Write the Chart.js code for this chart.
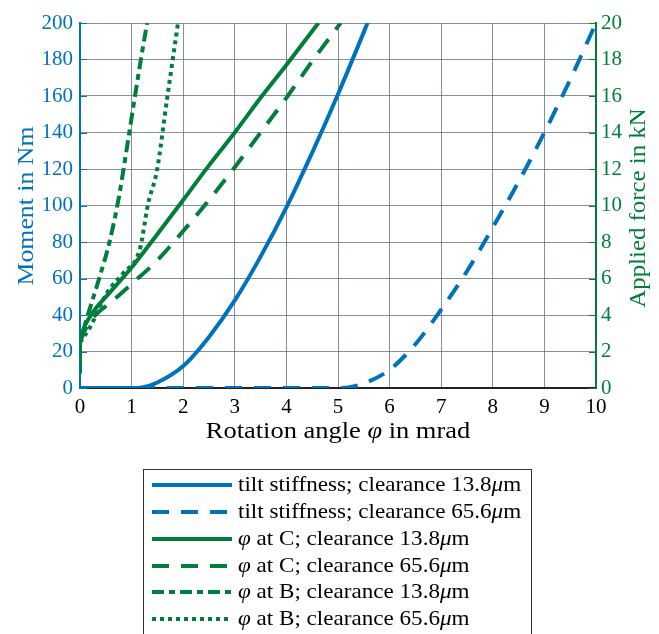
<!DOCTYPE html>
<html>
<head>
<meta charset="utf-8">
<script src="https://cdn.jsdelivr.net/npm/chart.js@4"></script>
<style>
  html, body { margin: 0; padding: 0; background: #fff; }
  #wrap { width: 659px; height: 634px; position: relative; }
</style>
</head>
<body>
<div id="wrap"><canvas id="chart" width="659" height="634"></canvas></div>
<script>
// tick values
const xTicks = [0, 1, 2, 3, 4, 5, 6, 7, 8, 9, 10];
const momentTicks = [0, 20, 40, 60, 80, 100, 120, 140, 160, 180, 200];
const forceTicks = [0, 2, 4, 6, 8, 10, 12, 14, 16, 18, 20];

// tilt stiffness (Nm), left axis
const tilt138X = [0, 1.0, 1.2, 1.5, 2.0, 2.5, 3.0, 3.5, 4.0, 4.5, 5.0, 5.5, 5.6];
const tilt138Y = [0, 0, 0.3, 3, 12, 28, 48, 72, 99, 129, 161, 195, 202];
const tilt656X = [0, 5.0, 5.2, 5.5, 6.0, 6.5, 7.0, 7.5, 8.0, 8.5, 9.0, 9.5, 10.0];
const tilt656Y = [0, 0, 0.3, 2.5, 10, 24, 43, 64, 88, 113, 140, 169, 200];

// angle at C / B (kN), right axis
const startX = [0, 0];
const startY = [0.8, 2.5];
const atC138X = [0, 0.05, 0.19, 0.6, 1.0, 1.41, 2.0, 2.5, 3.0, 3.5, 4.0, 4.62];
const atC138Y = [2.5, 3.1, 3.9, 5.3, 6.6, 8.1, 10.3, 12.2, 14.0, 15.9, 17.7, 20];
const atC656X = [0, 0.1, 0.3, 0.6, 1.0, 1.5, 2.0, 2.5, 3.0, 3.5, 4.0, 4.5, 5.05];
const atC656Y = [2.5, 3.2, 4.0, 4.7, 5.7, 7.0, 8.6, 10.3, 12.1, 14.0, 15.9, 17.9, 20];
const atB138X = [0, 0.13, 0.35, 0.58, 0.75, 0.95, 1.06, 1.18, 1.3];
const atB138Y = [2.5, 3.8, 5.8, 8.1, 10.4, 13.9, 15.9, 18.0, 20];
const atB656X = [0, 0.19, 0.52, 0.84, 1.16, 1.32, 1.49, 1.69, 1.9];
const atB656Y = [2.5, 3.3, 5.2, 6.3, 7.6, 10.1, 11.9, 15.9, 20];

const legendLabels = [
  ["", "tilt stiffness; clearance 13.8"],
  ["", "tilt stiffness; clearance 65.6"],
  ["\u03c6", " at C; clearance 13.8"],
  ["\u03c6", " at C; clearance 65.6"],
  ["\u03c6", " at B; clearance 13.8"],
  ["\u03c6", " at B; clearance 65.6"]
];

const BLUE = "rgb(0,114,189)";
const GREEN = "rgb(0,126,58)";
const FONT = "'Liberation Serif', 'DejaVu Serif', serif";

const pts = (xs, ys) => xs.map((x, i) => ({ x: x, y: ys[i] }));

const series = [
  { data: pts(tilt138X, tilt138Y), color: BLUE, dash: [], axis: "y", legend: 0 },
  { data: pts(tilt656X, tilt656Y), color: BLUE, dash: [17, 12], axis: "y", legend: 1 },
  { data: pts(atC138X, atC138Y), color: GREEN, dash: [], axis: "y1", legend: 2 },
  { data: pts(atC656X, atC656Y), color: GREEN, dash: [17, 12], axis: "y1", legend: 3 },
  { data: pts(atB138X, atB138Y), color: GREEN, dash: [12, 5, 6, 5], axis: "y1", legend: 4 },
  { data: pts(atB656X, atB656Y), color: GREEN, dash: [4, 4], axis: "y1", legend: 5 },
  { data: pts(startX, startY), color: GREEN, dash: [], axis: "y1", legend: -1 }
];

const datasets = series.map((s) => ({
  data: s.data,
  yAxisID: s.axis,
  borderColor: s.color,
  borderWidth: 4,
  borderDash: s.dash,
  borderCapStyle: "butt",
  showLine: true,
  pointRadius: 0,
  cubicInterpolationMode: "monotone",
  fill: false
}));

// draw a run of [text, italic] pieces, stretched horizontally (CM is wider than Times)
function drawRun(ctx, pieces, x, y, size, stretch, align) {
  let total = 0;
  pieces.forEach((p) => {
    ctx.font = (p[1] ? "italic " : "") + size + "px " + FONT;
    total += ctx.measureText(p[0]).width;
  });
  ctx.save();
  ctx.translate(x, y);
  ctx.scale(stretch, 1);
  let cx = align === "center" ? -total / 2 : 0;
  ctx.textAlign = "left";
  ctx.textBaseline = "middle";
  pieces.forEach((p) => {
    ctx.font = (p[1] ? "italic " : "") + size + "px " + FONT;
    ctx.fillText(p[0], cx, 0);
    cx += ctx.measureText(p[0]).width;
  });
  ctx.restore();
}

// axis titles, inward ticks and the boxed legend
const extras = {
  id: "extras",
  afterDraw(chart) {
    const ctx = chart.ctx;
    const a = chart.chartArea;
    const sy = chart.scales.y, sy1 = chart.scales.y1;
    ctx.save();

    // inward tick marks
    ctx.lineWidth = 1;
    ctx.strokeStyle = BLUE;
    momentTicks.forEach((v) => {
      const y = Math.round(sy.getPixelForValue(v)) + 0.5;
      ctx.beginPath(); ctx.moveTo(a.left, y); ctx.lineTo(a.left + 7, y); ctx.stroke();
    });
    ctx.strokeStyle = GREEN;
    forceTicks.forEach((v) => {
      const y = Math.round(sy1.getPixelForValue(v)) + 0.5;
      ctx.beginPath(); ctx.moveTo(a.right, y); ctx.lineTo(a.right - 7, y); ctx.stroke();
    });

    // titles
    ctx.fillStyle = BLUE;
    ctx.save(); ctx.translate(27, 206); ctx.rotate(-Math.PI / 2);
    drawRun(ctx, [["Moment in Nm", false]], 0, 0, 23, 1.12, "center");
    ctx.restore();
    ctx.fillStyle = GREEN;
    ctx.save(); ctx.translate(639, 208); ctx.rotate(-Math.PI / 2);
    drawRun(ctx, [["Applied force in kN", false]], 0, 0, 23, 1.08, "center");
    ctx.restore();

    ctx.fillStyle = "#000";
    drawRun(ctx, [["Rotation angle ", false], ["\u03c6", true], [" in mrad", false]], 338, 432, 23, 1.15, "center");

    // legend box
    ctx.strokeStyle = "#333";
    ctx.lineWidth = 1;
    ctx.strokeRect(143.5, 469.5, 388, 170);
    const rowY = [485, 512, 539, 566, 592, 619];
    series.forEach((s) => {
      if (s.legend < 0) return;
      const y = rowY[s.legend];
      ctx.strokeStyle = s.color;
      ctx.lineWidth = 4;
      ctx.setLineDash(s.dash);
      ctx.lineCap = "butt";
      ctx.beginPath(); ctx.moveTo(152, y); ctx.lineTo(232, y); ctx.stroke();
      ctx.setLineDash([]);
      const lab = legendLabels[s.legend];
      const pieces = [];
      if (lab[0]) pieces.push([lab[0], true]);
      pieces.push([lab[1], false], ["\u03bc", true], ["m", false]);
      ctx.fillStyle = "#000";
      drawRun(ctx, pieces, 238, y, 21, 1.1, "left");
    });
    ctx.restore();
  }
};

const gridColor = "rgba(95,105,125,0.75)";

new Chart(document.getElementById("chart").getContext("2d"), {
  type: "scatter",
  data: { datasets: datasets },
  options: {
    responsive: false,
    animation: false,
    layout: { padding: { top: 23, bottom: 186, left: 0, right: 0 } },
    plugins: { legend: { display: false }, tooltip: { enabled: false } },
    scales: {
      x: {
        type: "linear",
        min: 0, max: 10,
        afterBuildTicks: (s) => { s.ticks = xTicks.map((v) => ({ value: v })); },
        afterFit: (s) => { s.height = 60; },
        grid: { color: gridColor, lineWidth: 1, drawTicks: false },
        border: { color: "#222", width: 2 },
        ticks: { color: "#000", padding: 7, font: { family: FONT, size: 21 } }
      },
      y: {
        type: "linear",
        position: "left",
        min: 0, max: 200,
        afterBuildTicks: (s) => { s.ticks = momentTicks.map((v) => ({ value: v })); },
        afterFit: (s) => { s.width = 80; },
        grid: { color: gridColor, lineWidth: 1, drawTicks: false },
        border: { color: BLUE, width: 2 },
        ticks: { color: BLUE, padding: 7, font: { family: FONT, size: 21 } }
      },
      y1: {
        type: "linear",
        position: "right",
        min: 0, max: 20,
        afterBuildTicks: (s) => { s.ticks = forceTicks.map((v) => ({ value: v })); },
        afterFit: (s) => { s.width = 63; },
        grid: { drawOnChartArea: false, drawTicks: false },
        border: { color: GREEN, width: 2 },
        ticks: { color: GREEN, padding: 5, font: { family: FONT, size: 21 } }
      }
    }
  },
  plugins: [extras]
});
</script>
</body>
</html>
